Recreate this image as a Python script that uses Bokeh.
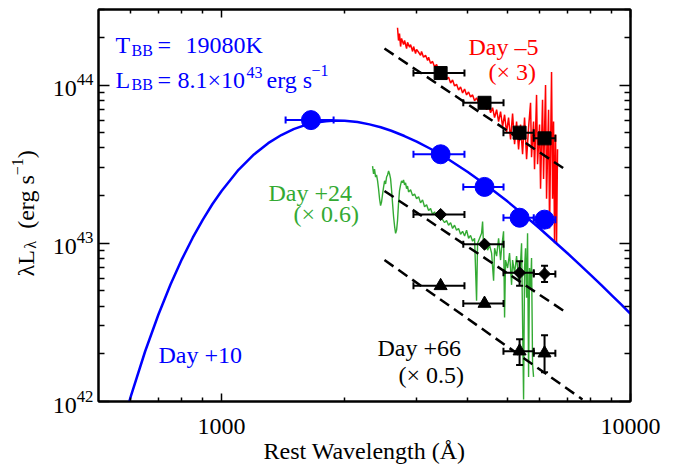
import math
from bokeh.plotting import figure
from bokeh.layouts import row
from bokeh.models import (LogAxis, FixedTicker, Label, Whisker, TeeHead,
                          ColumnDataSource, Range1d, CustomJSTickFormatter,
                          PrintfTickFormatter, LogTickFormatter)
from bokeh.embed import file_html
from bokeh.resources import INLINE

# ---------------- data ----------------
# Day +10 blackbody fit curve (T=19080 K), lambda L_lambda [erg/s]
bb_wl = [580, 600, 650, 700, 750, 800, 850, 900, 950, 1000, 1100, 1200, 1300,
         1400, 1500, 1600, 1700, 1800, 1900, 2000, 2150, 2300, 2450, 2600,
         2800, 3000, 3250, 3500, 4000, 4500, 5000, 5500, 6000, 6500, 7000,
         7500, 8000, 8500, 9000, 9500, 10000]
bb_L = [8.05e41, 1.08e42, 2.07e42, 3.52e42, 5.48e42, 7.94e42, 1.084e43,
        1.41e43, 1.77e43, 2.14e43, 2.91e43, 3.64e43, 4.29e43, 4.83e43,
        5.26e43, 5.58e43, 5.79e43, 5.91e43, 5.96e43, 5.95e43, 5.83e43,
        5.64e43, 5.41e43, 5.14e43, 4.76e43, 4.39e43, 3.94e43, 3.53e43,
        2.82e43, 2.27e43, 1.84e43, 1.50e43, 1.24e43, 1.03e43, 8.68e42,
        7.36e42, 6.29e42, 5.41e42, 4.69e42, 4.09e42, 3.58e42]

# photometric bands: effective wavelength and horizontal bar extent
band_wl = [1654.0, 3433.0, 4395.0, 5355.0, 6163.0]
band_lo = [1434.0, 2946.0, 3900.0, 4890.0, 5800.0]
band_hi = [1879.0, 3926.0, 4892.0, 5800.0, 6550.0]

day10_L = [6.0e43, 3.65e43, 2.27e43, 1.45e43, 1.41e43]
dm5_L = [1.19e44, 7.72e43, 5.0e43, 4.6e43]          # Day -5 (x3)
d24_L = [1.52e43, 9.86e42, 6.5e42, 6.4e42]          # Day +24 (x0.6)
d66_L = [5.38e42, 4.16e42, 2.08e42, 2.02e42]        # Day +66 (x0.5)

# vertical error bars (last two bands)
yerr_wl = [5355.0, 6163.0]
d24_ylo = [5.38e42, 5.7e42]
d24_yhi = [7.7e42, 7.2e42]
d66_ylo = [1.70e42, 1.53e42]
d66_yhi = [2.47e42, 2.62e42]

# dashed power-law fits (end points)
fit_m5_wl = [2502, 7016]
fit_m5_L = [1.70e44, 2.86e43]
fit_24_wl = [2502, 7016]
fit_24_L = [2.14e43, 3.6e42]
fit_66_wl = [2502, 7630]
fit_66_L = [7.83e42, 1.03e42]

# Day -5 spectrum (x3), in units of 1e43 erg/s
red_wl = [2693, 2708, 2723, 2740, 2755, 2786, 2802, 2834, 2849, 2882, 2899,
          2932, 2948, 2981, 2998, 3032, 3066, 3083, 3118, 3154, 3190, 3208,
          3244, 3281, 3318, 3356, 3394, 3432, 3471, 3510, 3550, 3590, 3631,
          3672, 3713, 3755, 3798, 3841, 3885, 3929, 3973, 4018, 4063, 4110,
          4156, 4203, 4251, 4299, 4348, 4397, 4447, 4497, 4548, 4600, 4652,
          4705, 4758, 4811, 4866, 4921, 4976, 5033, 5090, 5148, 5206, 5265,
          5325, 5384, 5446, 5507, 5570, 5633, 5696, 5728, 5793, 5825, 5892,
          5925, 5992, 6026, 6094, 6129, 6198, 6233, 6304, 6339, 6411, 6448,
          6484, 6520, 6557, 6594, 6631]
red_L = [23.0, 19.1, 21.1, 17.5, 19.7, 18.0, 19.1, 17.0, 18.6, 17.3, 18.0,
         16.3, 17.5, 15.8, 16.8, 16.1, 15.4, 16.3, 15.0, 15.4, 14.3, 15.0,
         13.7, 14.1, 13.0, 13.5, 12.4, 12.1, 11.7, 11.4, 10.9, 11.2, 10.3,
         10.75, 9.86, 10.1, 9.3, 9.72, 8.91, 9.44, 8.66, 9.04, 8.41, 8.66,
         7.94, 8.29, 7.72, 8.06, 7.39, 7.72, 6.98, 7.50, 6.68, 7.18, 6.22,
         6.98, 5.87, 6.78, 5.46, 6.49, 5.01, 6.22, 4.53, 6.59, 4.22, 5.87,
         3.92, 5.62, 3.65, 6.22, 3.40, 5.38, 7.72, 3.50, 5.87, 2.94, 8.66,
         3.16, 5.62, 2.21, 8.06, 2.55, 10.0, 1.91, 6.98, 1.24, 12.1, 1.91,
         5.87, 1.0, 4.87, 1.0, 3.92]

# Day +24 spectrum (x0.6), in units of 1e43 erg/s
grn_wl = [2340, 2353, 2366, 2380, 2393, 2407, 2420, 2434, 2448, 2462, 2476,
          2490, 2504, 2518, 2532, 2546, 2561, 2575, 2590, 2604, 2619, 2634,
          2649, 2664, 2679, 2693, 2708, 2723, 2740, 2755, 2771, 2786, 2802,
          2818, 2834, 2849, 2866, 2899, 2932, 2965, 2998, 3032, 3066, 3101,
          3136, 3172, 3208, 3244, 3281, 3318, 3356, 3394, 3432, 3471, 3510,
          3550, 3590, 3631, 3672, 3713, 3755, 3798, 3841, 3885, 3929, 3973,
          4018, 4063, 4110, 4156, 4203, 4227, 4275, 4323, 4348, 4372, 4421,
          4472, 4522, 4574, 4626, 4652, 4705, 4758, 4811, 4839, 4893, 4921,
          4948, 5005, 5061, 5119, 5148, 5206, 5265, 5325, 5384, 5415, 5477,
          5507, 5538, 5570, 5601, 5633, 5664, 5696, 5728, 5761, 5793]
grn_L = [3.07, 2.74, 2.94, 2.62, 2.70, 2.48, 2.21, 1.91, 1.73, 1.83, 2.05,
         2.27, 2.48, 2.37, 2.62, 2.70, 2.86, 2.74, 2.55, 2.18, 1.78, 1.47,
         1.28, 1.155, 1.21, 1.39, 1.78, 2.14, 2.34, 2.48, 2.41, 2.51, 2.34,
         2.41, 2.21, 2.30, 2.11, 2.18, 2.00, 2.05, 1.91, 1.97, 1.80, 1.88,
         1.70, 1.75, 1.61, 1.66, 1.52, 1.58, 1.47, 1.54, 1.45, 1.41, 1.35,
         1.39, 1.30, 1.35, 1.24, 1.30, 1.21, 1.24, 1.14, 1.19, 1.11, 1.21,
         1.075, 1.12, 1.03, 1.075, 0.434, 1.00, 1.075, 1.155, 1.37, 0.958, 1.01,
         0.904, 0.972, 0.866, 0.579, 0.93, 0.83, 1.075, 0.783, 0.93, 1.19, 0.34,
         0.783, 0.698, 0.866, 0.546, 0.783, 0.649, 0.83, 0.587, 0.75, 1.00, 0.103,
         0.698, 0.93, 0.453, 1.155, 0.143, 0.698, 0.523, 0.806, 0.173, 0.143]

x_ticks = [1000.0, 10000.0]
y_ticks = [1e42, 1e43, 1e44]

BLUE = "#0000ff"
RED = "#ff0000"
GREEN = "#33aa33"
FONT = "Liberation Serif"

# ---------------- layout geometry ----------------
XMIN, XMAX = 500.0, 10000.0
YMIN, YMAX = 1e42, 3e44
W_T = 48                      # width of the strip holding the y title
L, R, T, B = 98, 630, 9, 404  # frame edges in page pixels
H = 466

p = figure(width=681 - W_T, height=H, x_axis_type="log", y_axis_type="log",
           x_range=Range1d(XMIN, XMAX), y_range=Range1d(YMIN, YMAX),
           output_backend="svg", toolbar_location=None, title=None,
           min_border_left=L - W_T, min_border_right=681 - R,
           min_border_top=T, min_border_bottom=H - B)
p.xgrid.visible = False
p.ygrid.visible = False
p.outline_line_color = "black"
p.outline_line_width = 2
p.background_fill_color = "white"
p.border_fill_color = "white"


def X(px):
    return 10 ** (math.log10(XMIN) + (px - L) * math.log10(XMAX / XMIN) / (R - L))


def Y(py):
    return 10 ** (math.log10(YMIN) + (B - py) * math.log10(YMAX / YMIN) / (B - T))


x_minor = [600.0, 700.0, 800.0, 900.0, 2000.0, 3000.0, 4000.0, 5000.0,
           6000.0, 7000.0, 8000.0, 9000.0]
y_minor = [float(m) * 10.0 ** e for e in (42, 43) for m in range(2, 10)] + [2e44, 3e44]


def style_axis(ax, major, minor, tin, min_in, labels):
    ax.ticker = FixedTicker(ticks=major, minor_ticks=minor)
    if labels is None:
        ax.formatter = CustomJSTickFormatter(code="return '';")
        ax.major_label_text_font_size = "2px"
        ax.major_label_standoff = 0
    else:
        ax.formatter = labels
        ax.major_label_text_font = FONT
        ax.major_label_text_font_size = "24px"
        ax.major_label_text_color = "black"
    ax.axis_line_width = 2
    ax.axis_line_color = "black"
    ax.major_tick_in = tin
    ax.major_tick_out = 0
    ax.minor_tick_in = min_in
    ax.minor_tick_out = 0
    ax.major_tick_line_width = 1.5
    ax.minor_tick_line_width = 1.5


xa = p.xaxis[0]
style_axis(xa, x_ticks, x_minor, 8, 4, PrintfTickFormatter(format="%d"))
xa.major_label_standoff = 17
xa.axis_label = "Rest Wavelength (Å)"
xa.axis_label_text_font = FONT
xa.axis_label_text_font_size = "24px"
xa.axis_label_text_font_style = "normal"
xa.axis_label_text_color = "black"
xa.axis_label_standoff = 1

ya = p.yaxis[0]
style_axis(ya, y_ticks, y_minor, 11, 6, LogTickFormatter())
ya.major_label_standoff = 5

top = LogAxis()
style_axis(top, x_ticks, x_minor, 8, 4, None)
p.add_layout(top, "above")
right = LogAxis()
style_axis(right, y_ticks, y_minor, 11, 6, None)
p.add_layout(right, "right")

# ---------------- spectra ----------------
p.line(red_wl, [v * 1e43 for v in red_L], line_color=RED, line_width=1.5)
p.line(grn_wl, [v * 1e43 for v in grn_L], line_color=GREEN, line_width=1.4)

# blackbody curve
p.line(bb_wl, bb_L, line_color=BLUE, line_width=2.5)

# dashed fits
for wl, lv in ((fit_m5_wl, fit_m5_L), (fit_24_wl, fit_24_L), (fit_66_wl, fit_66_L)):
    p.line(wl, lv, line_color="black", line_width=2.5, line_dash="11 6")


def hbars(wl_lo, wl_hi, yv, color):
    src = ColumnDataSource(dict(lo=wl_lo, hi=wl_hi, y=yv))
    w = Whisker(source=src, base="y", lower="lo", upper="hi", dimension="width",
                line_color=color, line_width=2, level="annotation",
                upper_head=TeeHead(size=7, line_color=color, line_width=2),
                lower_head=TeeHead(size=7, line_color=color, line_width=2))
    p.add_layout(w)


def vbars(xv, lo, hi, color):
    src = ColumnDataSource(dict(lo=lo, hi=hi, x=xv))
    w = Whisker(source=src, base="x", lower="lo", upper="hi", dimension="height",
                line_color=color, line_width=2, level="annotation",
                upper_head=TeeHead(size=7, line_color=color, line_width=2),
                lower_head=TeeHead(size=7, line_color=color, line_width=2))
    p.add_layout(w)


hbars(band_lo, band_hi, day10_L, BLUE)
hbars(band_lo[1:], band_hi[1:], dm5_L, "black")
hbars(band_lo[1:], band_hi[1:], d24_L, "black")
hbars(band_lo[1:], band_hi[1:], d66_L, "black")
vbars(yerr_wl, d24_ylo, d24_yhi, "black")
vbars(yerr_wl, d66_ylo, d66_yhi, "black")

p.scatter(band_wl, day10_L, marker="circle", size=19, fill_color=BLUE, line_color=BLUE)
p.scatter(band_wl[1:], dm5_L, marker="square", size=13, fill_color="black", line_color="black")
p.scatter(band_wl[1:], d24_L, marker="square", size=8.5, angle=math.pi / 4,
          fill_color="black", line_color="black")
p.scatter(band_wl[1:], d66_L, marker="triangle", size=13, fill_color="black", line_color="black")


# ---------------- texts inside the frame ----------------
def lab(text, px, py, size=24, color="black", align="left"):
    p.add_layout(Label(x=X(px), y=Y(py), text=text, text_font=FONT,
                       text_font_size=f"{size}px", text_color=color,
                       text_align=align, text_baseline="alphabetic"))


lab("T", 115, 45, color=BLUE)
lab("BB", 131, 50, size=16, color=BLUE)
lab("=", 157, 45, color=BLUE)
lab("19080K", 185, 45, color=BLUE)
lab("L", 115, 80, color=BLUE)
lab("BB", 131, 85, size=16, color=BLUE)
lab("=", 157, 80, color=BLUE)
lab("8.1×10", 177, 80, color=BLUE)
lab("43", 246, 72, size=16, color=BLUE)
lab("erg s", 266, 80, color=BLUE)
lab("−1", 311, 70, size=16, color=BLUE)

lab("Day –5", 468, 47, color=RED)
lab("(× 3)", 488, 72, color=RED)
lab("Day +24", 268, 194, color=GREEN)
lab("(× 0.6)", 293, 215, color=GREEN)
lab("Day +66", 377, 350)
lab("(× 0.5)", 398, 377)
lab("Day +10", 158, 357, color=BLUE)

# ---------------- y title strip ----------------
# its frame is aligned with the main frame (rows align frames), so the
# vertical range spans the frame's page rows T..B
yt = figure(width=W_T, height=H, x_range=Range1d(0, W_T),
            y_range=Range1d(H - B, H - T),
            output_backend="svg", toolbar_location=None, title=None,
            min_border=0, x_axis_location=None, y_axis_location=None)
yt.grid.visible = False
yt.outline_line_color = None
yt.background_fill_color = "white"
yt.border_fill_color = "white"


def ylab(text, px, py, size=24):
    yt.add_layout(Label(x=px, y=H - py, text=text, text_font=FONT,
                        text_font_size=f"{size}px", text_color="black",
                        angle=math.pi / 2, text_align="left",
                        text_baseline="alphabetic"))


ylab("λL", 25, 278)
ylab("λ", 30, 250, size=16)
ylab("(erg s", 25, 230)
ylab("−1", 17, 176, size=16)
ylab(")", 25, 159)

layout = row(yt, p, spacing=0)
open("out.html", "w").write(file_html(layout, INLINE))
